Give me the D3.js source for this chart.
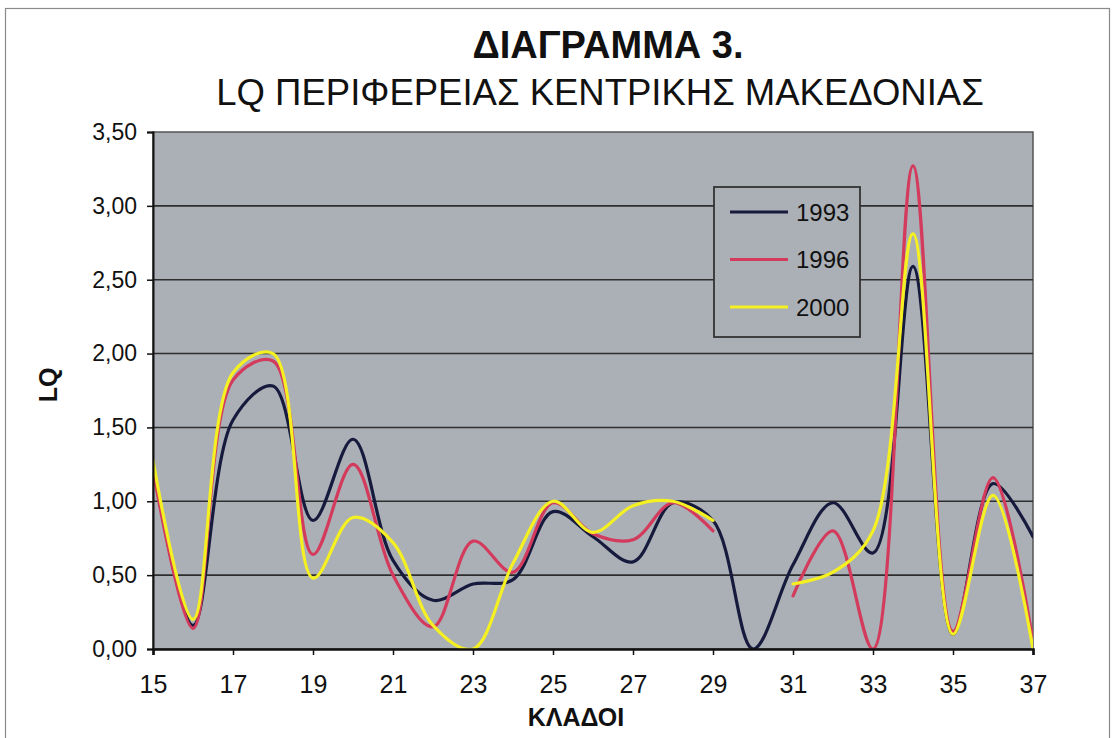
<!DOCTYPE html>
<html>
<head>
<meta charset="utf-8">
<script src="https://cdn.jsdelivr.net/npm/d3@7"></script>
<style>
  html, body { margin: 0; padding: 0; background: #ffffff; }
  svg { display: block; font-family: "Liberation Sans", Arial, sans-serif; }
</style>
</head>
<body>
<svg id="chart" width="1113" height="738"></svg>
<script>
// ---- data ----
const categories = [15,16,17,18,19,20,21,22,23,24,25,26,27,28,29,30,31,32,33,34,35,36,37];
const values1993 = [1.25,0.16,1.55,1.78,0.87,1.42,0.60,0.33,0.44,0.47,0.93,0.76,0.59,0.99,0.87,0.00,0.57,0.99,0.65,2.59,0.10,1.12,0.76];
const values1996 = [1.22,0.14,1.82,1.95,0.64,1.25,0.50,0.15,0.73,0.52,0.99,0.78,0.74,0.99,0.80,null,0.36,0.80,0.00,3.27,0.12,1.16,0.05];
const values2000 = [1.28,0.20,1.87,2.00,0.48,0.89,0.72,0.16,0.00,0.58,1.00,0.79,0.97,1.00,0.87,null,0.44,0.52,0.80,2.81,0.10,1.04,0.00];
const seriesNames = ["1993","1996","2000"];
const yTicks = [0,0.5,1,1.5,2,2.5,3,3.5];
const xTickLabels = [15,17,19,21,23,25,27,29,31,33,35,37];
const titleLine1 = "ΔΙΑΓΡΑΜΜΑ 3.";
const titleLine2 = "LQ ΠΕΡΙΦΕΡΕΙΑΣ ΚΕΝΤΡΙΚΗΣ ΜΑΚΕΔΟΝΙΑΣ";
const xTitle = "ΚΛΑΔΟΙ";
const yTitle = "LQ";

// ---- layout ----
const svg = d3.select("#chart");
const L = 153, R = 1033, T = 132, B = 649;
const colors = ["#161a3c", "#d33a5c", "#f4f022"];

const x = d3.scalePoint().domain(categories).range([L, R]);
const y = d3.scaleLinear().domain([0, 3.5]).range([B, T]);
const locale = d3.formatLocale({decimal: ",", thousands: ".", grouping: [3], currency: ["", "€"]});
const fmt = locale.format(".2f");

// outer frame
svg.append("rect").attr("x", 5.5).attr("y", 8.5).attr("width", 1104).attr("height", 740)
  .attr("fill", "none").attr("stroke", "#8a8a8a").attr("stroke-width", 1.2);

// plot background
svg.append("rect").attr("x", L).attr("y", T).attr("width", R - L).attr("height", B - T)
  .attr("fill", "#abafb6").attr("stroke", "#555").attr("stroke-width", 1.5);

// gridlines
svg.append("g").selectAll("line").data(yTicks.filter(d => d > 0 && d < 3.5)).join("line")
  .attr("x1", L).attr("x2", R).attr("y1", d => y(d)).attr("y2", d => y(d))
  .attr("stroke", "#2e2e2e").attr("stroke-width", 1.6);

// clip
svg.append("clipPath").attr("id", "plotclip").append("rect")
  .attr("x", L).attr("y", T).attr("width", R - L).attr("height", B - T);

const allSeries = [values1993, values1996, values2000];
const line = d3.line()
  .defined(d => d.v !== null)
  .x(d => x(d.c)).y(d => y(d.v))
  .curve(d3.curveCatmullRom.alpha(0.5));

const gLines = svg.append("g").attr("clip-path", "url(#plotclip)");
allSeries.forEach((vals, i) => {
  const pts = categories.map((c, j) => ({c: c, v: vals[j]}));
  gLines.append("path").datum(pts).attr("d", line)
    .attr("fill", "none").attr("stroke", colors[i]).attr("stroke-width", 3.2)
    .attr("stroke-linejoin", "round").attr("stroke-linecap", "round");
});

// y axis
const yAxis = d3.axisLeft(y).tickValues(yTicks).tickFormat(fmt).tickSize(6).tickPadding(10);
const gy = svg.append("g").attr("transform", `translate(${L},0)`).call(yAxis);
gy.select(".domain").attr("stroke", "#111").attr("stroke-width", 2);
gy.selectAll(".tick line").attr("stroke", "#111").attr("stroke-width", 1.5);
gy.selectAll("text").attr("font-size", 23).attr("fill", "#111").attr("font-family", "Liberation Sans, Arial, sans-serif");

// x axis
const xAxis = d3.axisBottom(x).tickValues(xTickLabels).tickSize(6).tickPadding(20);
const gx = svg.append("g").attr("transform", `translate(0,${B})`).call(xAxis);
gx.select(".domain").attr("stroke", "#111").attr("stroke-width", 2.6);
gx.selectAll(".tick line").attr("stroke", "#111").attr("stroke-width", 1.5);
gx.selectAll("text").attr("font-size", 25).attr("fill", "#111").attr("font-family", "Liberation Sans, Arial, sans-serif");

// titles
svg.append("text").attr("x", 608).attr("y", 58).attr("text-anchor", "middle")
  .attr("font-size", 38).attr("font-weight", "bold").attr("fill", "#111").text(titleLine1);
svg.append("text").attr("x", 600).attr("y", 105).attr("text-anchor", "middle")
  .attr("font-size", 36.5).attr("fill", "#111").text(titleLine2);
svg.append("text").attr("x", 576).attr("y", 726).attr("text-anchor", "middle")
  .attr("font-size", 25).attr("font-weight", "bold").attr("fill", "#111").text(xTitle);
svg.append("text").attr("transform", "translate(57,385) rotate(-90)").attr("text-anchor", "middle")
  .attr("font-size", 25).attr("font-weight", "bold").attr("fill", "#111").text(yTitle);

// legend
const lg = svg.append("g");
lg.append("rect").attr("x", 714).attr("y", 187).attr("width", 146).attr("height", 150)
  .attr("fill", "#abafb6").attr("stroke", "#333").attr("stroke-width", 1.8);
seriesNames.forEach((name, i) => {
  const yy = 212 + i * 47.5;
  lg.append("line").attr("x1", 730).attr("x2", 788).attr("y1", yy).attr("y2", yy)
    .attr("stroke", colors[i]).attr("stroke-width", 3.2);
  lg.append("text").attr("x", 796).attr("y", yy + 8.5).attr("font-size", 24)
    .attr("fill", "#111").text(name);
});
</script>
</body>
</html>
